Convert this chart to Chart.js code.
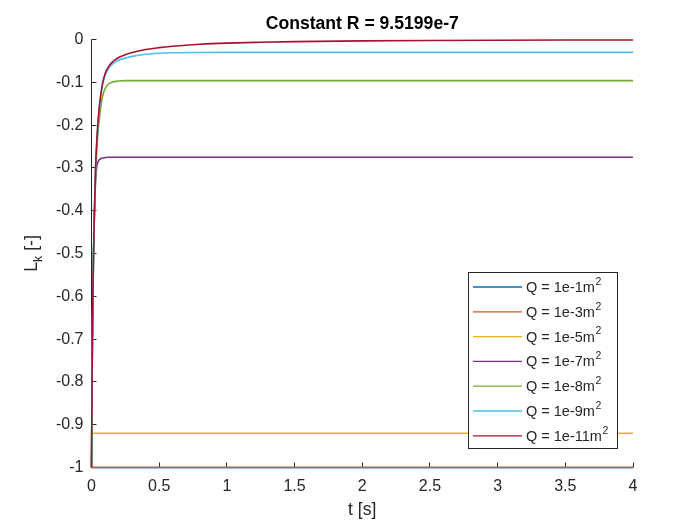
<!DOCTYPE html>
<html>
<head>
<meta charset="utf-8">
<script src="https://cdn.jsdelivr.net/npm/chart.js@4.4.1/dist/chart.umd.min.js"></script>
<style>
  html, body { margin: 0; padding: 0; background: #ffffff; }
  #wrap { width: 700px; height: 525px; }
</style>
</head>
<body>
<div id="wrap"><canvas id="c" width="700" height="525"></canvas></div>
<script>
// ---- data ----
const tValues = [0, 0.0025, 0.005, 0.01, 0.015, 0.02, 0.03, 0.04, 0.05, 0.06, 0.08, 0.1, 0.125, 0.15, 0.2, 0.25, 0.3, 0.4, 0.5, 0.6, 0.8, 1, 1.25, 1.5, 2, 2.5, 3, 3.5, 4];

const q1e1  = [-1, -1, -1, -1, -1, -1, -1, -1, -1, -1, -1, -1, -1, -1, -1, -1, -1, -1, -1, -1, -1, -1, -1, -1, -1, -1, -1, -1, -1];
const q1e3  = [-1, -1, -1, -1, -1, -1, -1, -1, -1, -1, -1, -1, -1, -1, -1, -1, -1, -1, -1, -1, -1, -1, -1, -1, -1, -1, -1, -1, -1];
const q1e5  = [-1, -0.95, -0.925, -0.92, -0.92, -0.92, -0.92, -0.92, -0.92, -0.92, -0.92, -0.92, -0.92, -0.92, -0.92, -0.92, -0.92, -0.92, -0.92, -0.92, -0.92, -0.92, -0.92, -0.92, -0.92, -0.92, -0.92, -0.92, -0.92];
const q1e7  = [-1, -0.88, -0.77, -0.62, -0.50, -0.43, -0.33, -0.295, -0.285, -0.28, -0.277, -0.276, -0.275, -0.275, -0.275, -0.275, -0.275, -0.275, -0.275, -0.275, -0.275, -0.275, -0.275, -0.275, -0.275, -0.275, -0.275, -0.275, -0.275];
const q1e8  = [-1, -0.88, -0.77, -0.61, -0.51, -0.43, -0.32, -0.255, -0.21, -0.18, -0.135, -0.115, -0.104, -0.100, -0.097, -0.096, -0.096, -0.096, -0.096, -0.096, -0.096, -0.096, -0.096, -0.096, -0.096, -0.096, -0.096, -0.096, -0.096];
const q1e9  = [-1, -0.88, -0.76, -0.60, -0.50, -0.42, -0.30, -0.235, -0.19, -0.155, -0.11, -0.085, -0.068, -0.059, -0.048, -0.0435, -0.0395, -0.0345, -0.032, -0.031, -0.0303, -0.030, -0.030, -0.030, -0.030, -0.030, -0.030, -0.030, -0.030];
const q1e11 = [-1, -0.88, -0.76, -0.60, -0.50, -0.42, -0.30, -0.23, -0.185, -0.15, -0.105, -0.08, -0.064, -0.054, -0.042, -0.0355, -0.0305, -0.0235, -0.019, -0.0157, -0.0112, -0.0085, -0.0065, -0.005, -0.0032, -0.0022, -0.0016, -0.0012, -0.001];

const seriesValues = [q1e1, q1e3, q1e5, q1e7, q1e8, q1e9, q1e11];
const seriesExps   = ['1e-1', '1e-3', '1e-5', '1e-7', '1e-8', '1e-9', '1e-11'];
const seriesColors = ['#0072BD', '#D95319', '#EDB120', '#7E2F8E', '#77AC30', '#4DBEEE', '#A2142F'];

const titleText = 'Constant R = 9.5199e-7';
const xLabelText = 't [s]';

const AX = '#262626';
const FONT = '"Liberation Sans", Arial, Helvetica, sans-serif';

// Chart.js draws the first dataset on top, so the list is reversed
// to keep the last series (as in the reference) top-most.
const datasets = seriesValues.map((vals, i) => ({
  label: 'Q = ' + seriesExps[i] + 'm²',
  data: tValues.map((t, k) => ({ x: t, y: vals[k] })),
  borderColor: seriesColors[i],
  backgroundColor: seriesColors[i],
  borderWidth: 1.6,
  pointRadius: 0,
  fill: false,
  clip: 3,
  cubicInterpolationMode: 'monotone'
})).reverse();

const axesPlugin = {
  id: 'matlabAxes',
  beforeDatasetsDraw(chart) {
    const ctx = chart.ctx;
    const a = chart.chartArea;
    const xs = chart.scales.x, ys = chart.scales.y;
    const L = Math.floor(a.left) + 0.5, B = Math.floor(a.bottom) + 0.5;
    ctx.save();
    ctx.strokeStyle = AX;
    ctx.lineWidth = 1;
    ctx.beginPath();
    ctx.moveTo(L, a.top);
    ctx.lineTo(L, B);
    ctx.lineTo(a.right, B);
    ys.ticks.forEach(t => {
      const p = Math.floor(ys.getPixelForValue(t.value)) + 0.5;
      ctx.moveTo(L, p); ctx.lineTo(L + 5, p);
    });
    xs.ticks.forEach(t => {
      const p = Math.floor(xs.getPixelForValue(t.value)) + 0.5;
      ctx.moveTo(p, B); ctx.lineTo(p, B - 5);
    });
    ctx.stroke();
    ctx.restore();
  },
  afterDraw(chart) {
    const ctx = chart.ctx;
    const a = chart.chartArea;
    const cx = (a.left + a.right) / 2;
    ctx.save();
    ctx.fillStyle = '#000000';
    // title
    ctx.font = 'bold 17.6px ' + FONT;
    ctx.textAlign = 'center';
    ctx.textBaseline = 'middle';
    ctx.fillText(titleText, cx, 24);
    // x label
    ctx.fillStyle = AX;
    ctx.font = '17.6px ' + FONT;
    ctx.fillText(xLabelText, cx, 510);
    // y label  L_k [-]
    ctx.save();
    ctx.translate(37, (a.top + a.bottom) / 2);
    ctx.rotate(-Math.PI / 2);
    ctx.textBaseline = 'alphabetic';
    ctx.textAlign = 'left';
    const fMain = '17.6px ' + FONT, fSub = '12.5px ' + FONT;
    ctx.font = fMain; const wL = ctx.measureText('L').width;
    ctx.font = fSub;  const wk = ctx.measureText('k').width;
    ctx.font = fMain; const wR = ctx.measureText(' [-]').width;
    const total = wL + wk + wR;
    let x0 = -total / 2;
    ctx.font = fMain; ctx.fillText('L', x0, 0); x0 += wL;
    ctx.font = fSub;  ctx.fillText('k', x0, 4.5); x0 += wk;
    ctx.font = fMain; ctx.fillText(' [-]', x0, 0);
    ctx.restore();

    // legend
    const bx = 468.5, by = 272.5, bw = 149, bh = 176;
    ctx.fillStyle = '#ffffff';
    ctx.fillRect(bx, by, bw, bh);
    ctx.strokeStyle = AX;
    ctx.lineWidth = 1;
    ctx.strokeRect(bx, by, bw, bh);
    const rowH = 24.8;
    ctx.textAlign = 'left';
    ctx.textBaseline = 'middle';
    seriesExps.forEach((exp, i) => {
      const y = by + 14.5 + rowH * i;
      ctx.strokeStyle = seriesColors[i];
      ctx.lineWidth = 1.3;
      ctx.beginPath();
      ctx.moveTo(473, y);
      ctx.lineTo(522, y);
      ctx.stroke();
      ctx.fillStyle = AX;
      const base = 'Q = ' + exp + 'm';
      ctx.font = '14.5px ' + FONT;
      ctx.fillText(base, 526, y + 1);
      const w = ctx.measureText(base).width;
      ctx.font = '10.5px ' + FONT;
      ctx.fillText('2', 526 + w + 0.5, y - 5);
    });
    ctx.restore();
  }
};

new Chart(document.getElementById('c'), {
  type: 'line',
  data: { datasets },
  options: {
    responsive: false,
    animation: false,
    devicePixelRatio: 1,
    layout: { padding: { top: 39.5, right: 67, left: 0, bottom: 0 } },
    plugins: { legend: { display: false }, title: { display: false }, tooltip: { enabled: false } },
    scales: {
      x: {
        type: 'linear', min: 0, max: 4,
        ticks: { stepSize: 0.5, color: AX, padding: 9, font: { size: 16, family: FONT }, maxRotation: 0,
                 callback: v => String(Number(v.toFixed(1))) },
        grid: { display: false, drawTicks: false },
        border: { display: false },
        afterFit: s => { s.height = 57.5; }
      },
      y: {
        type: 'linear', min: -1, max: 0,
        ticks: { stepSize: 0.1, color: AX, padding: 8, font: { size: 16, family: FONT },
                 callback: v => String(Number(v.toFixed(1))) },
        grid: { display: false, drawTicks: false },
        border: { display: false },
        afterFit: s => { s.width = 91.5; }
      }
    }
  },
  plugins: [axesPlugin]
});
</script>
</body>
</html>
